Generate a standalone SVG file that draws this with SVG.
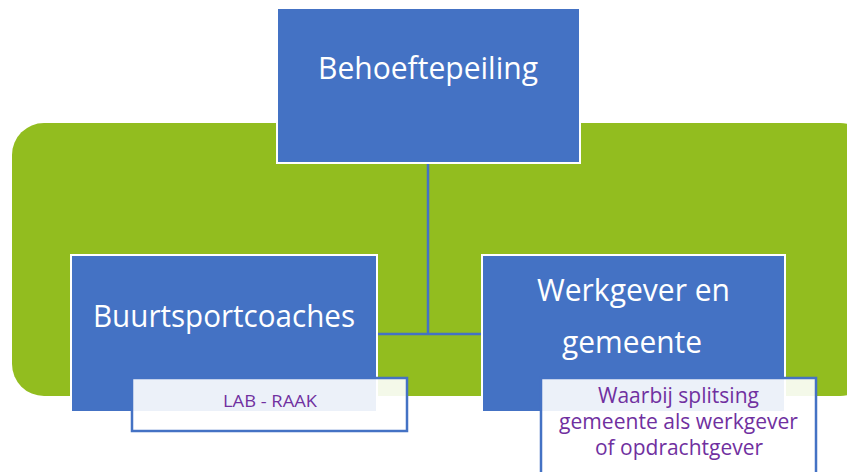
<svg xmlns="http://www.w3.org/2000/svg" width="847" height="472" viewBox="0 0 847 472">
<style>
.node{fill:#4472C4;stroke:#FFFFFF;stroke-width:2}
.big{font-family:"Open Sans",Lato,sans-serif;fill:#FFFFFF;font-size:31px}
.note{fill:#FFFFFF;fill-opacity:0.9;stroke:#4472C4;stroke-width:2.5}
.small{font-family:"Open Sans",Lato,sans-serif;fill:#7030A0}
.conn{fill:none;stroke:#4472C4;stroke-width:2.5}
</style>
<rect id="background" x="12" y="123" width="860" height="273" rx="32" ry="32" fill="#92BD1F"/>
<g id="connectors">
<path class="conn" d="M428 163 V334 M377 334 H482"/>
</g>
<g id="behoeftepeiling">
<rect class="node" x="277" y="8" width="303" height="155"/>
<text class="big" x="318" y="79" textLength="220" lengthAdjust="spacingAndGlyphs">Behoeftepeiling</text>
</g>
<g id="buurtsportcoaches">
<rect class="node" x="71" y="255" width="306" height="157"/>
<text class="big" x="93" y="327" textLength="262" lengthAdjust="spacingAndGlyphs">Buurtsportcoaches</text>
</g>
<g id="werkgever">
<rect class="node" x="482" y="255" width="303" height="157"/>
<text class="big" x="537" y="301" textLength="193" lengthAdjust="spacingAndGlyphs">Werkgever en</text>
<text class="big" x="562" y="353" textLength="140" lengthAdjust="spacingAndGlyphs">gemeente</text>
</g>
<g id="lab-raak">
<rect class="note" x="132" y="378" width="275" height="53"/>
<text class="small" x="223" y="407" font-size="17" textLength="94" lengthAdjust="spacingAndGlyphs">LAB - RAAK</text>
</g>
<g id="waarbij">
<rect class="note" x="541" y="378" width="275" height="100"/>
<text class="small" x="598" y="403" font-size="21" textLength="161" lengthAdjust="spacingAndGlyphs">Waarbij splitsing</text>
<text class="small" x="559" y="429" font-size="21" textLength="239" lengthAdjust="spacingAndGlyphs">gemeente als werkgever</text>
<text class="small" x="595" y="455" font-size="21" textLength="168" lengthAdjust="spacingAndGlyphs">of opdrachtgever</text>
</g>
</svg>
